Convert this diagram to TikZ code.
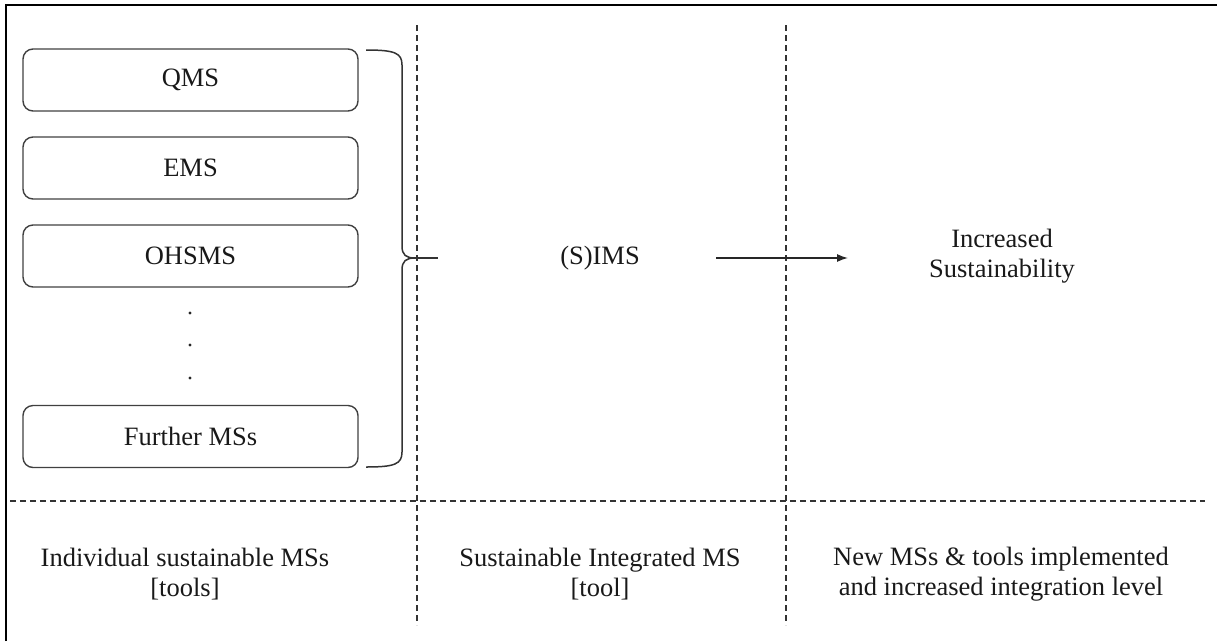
\documentclass[tikz,border=0pt]{standalone}
\usepackage{fontspec}
\setmainfont{Liberation Serif}
\usetikzlibrary{arrows.meta}
\begin{document}
\begin{tikzpicture}[x=1pt,y=-1pt,
  every node/.style={font=\fontsize{26.5}{30}\selectfont, text=black!90},
  msbox/.style={draw=black!75, line width=1.4pt, rounded corners=10pt,
    minimum width=335pt, minimum height=62pt, inner sep=0pt},
  label/.style={align=center, inner sep=0pt},
  divider/.style={draw=black!80, line width=1.3pt, dash pattern=on 6pt off 4pt},
  frame/.style={draw=black, line width=2.6pt},
  bracket/.style={draw=black!80, line width=1.5pt},
  flow/.style={draw=black!85, line width=1.4pt, -{Latex[length=11pt,width=8pt]}}]
\useasboundingbox (0,0) rectangle (1217,641);

% outer frame (top and left edges)
\draw[frame] (6,641) -- (6,5) -- (1217,5);

% column and row dividers
\draw[divider] (417,25) -- (417,625);
\draw[divider] (786,25) -- (786,625);
\draw[divider] (10,501) -- (1205,501);

% individual management systems
\node[msbox] (qms) at (190.5,80) {QMS};
\node[msbox] (ems) at (190.5,168) {EMS};
\node[msbox] (ohsms) at (190.5,256) {OHSMS};
\node[msbox] (further) at (190.5,436.5) {Further MSs};
\foreach \yy in {313,345,378} \fill[black!85] (190,\yy) circle (1.7pt);

% brace gathering the systems
\coordinate (btop) at (366,50);
\coordinate (bbot) at (366,467);
\coordinate (btip) at (415,258);
\coordinate (bend) at (438,258);
\draw[bracket] (btop) .. controls (395,50) and (402,53) .. (402,65) -- (402,246)
  .. controls (402,255) and (406,258) .. (btip)
  .. controls (406,258) and (402,261) .. (402,270) -- (402,452)
  .. controls (402,464) and (395,467) .. (bbot);
\draw[bracket] (btip) -- (bend);

% integrated system and outcome
\node[label] (sims) at (600,258) {(S)IMS};
\coordinate (astart) at (716,258);
\coordinate (aend) at (848,258);
\draw[flow] (astart) -- (aend);
\node[label] (outcome) at (1002,256) {Increased\\Sustainability};

% column captions
\node[label] (cap1) at (185,574) {Individual sustainable MSs\\{}[tools]};
\node[label] (cap2) at (600,574) {Sustainable Integrated MS\\{}[tool]};
\node[label] (cap3) at (1001,574) {New MSs \& tools implemented\\and increased integration level};
\end{tikzpicture}
\end{document}
